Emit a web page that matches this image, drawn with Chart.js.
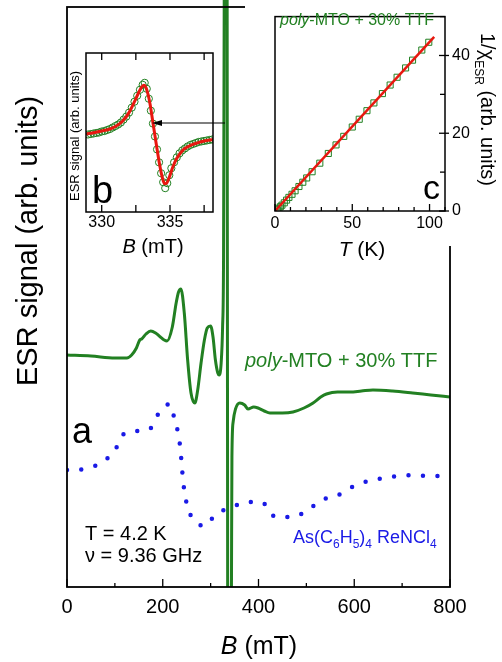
<!DOCTYPE html>
<html>
<head>
<meta charset="utf-8">
<script src="https://cdn.jsdelivr.net/npm/chart.js@4"></script>
<style>
  body { margin: 0; background: #fff; }
  #wrap { position: relative; width: 502px; height: 662px; }
  canvas { position: absolute; }
</style>
</head>
<body>
<div id="wrap">
  <canvas id="main" width="502" height="662" style="left:0;top:0"></canvas>
  <canvas id="insetB" width="180" height="222" style="left:60px;top:40px"></canvas>
  <canvas id="insetC" width="257" height="270" style="left:245px;top:0"></canvas>
</div>
<script>
"use strict";

// (a) ESR spectra, B in mT, signal in arb. units
const fieldMTO = [0, 50, 100, 125, 135, 145, 152, 156, 165, 175, 185, 195, 203, 209, 220, 228, 233, 238, 245, 252,
  259, 267, 273, 280, 287, 293, 300, 305, 310, 315, 318, 322, 325, 327, 329, 330.5, 333.5, 334.5, 335.6, 337,
  342, 343.5, 344.5, 347, 352, 361, 371, 378, 390, 399, 412, 424, 450, 472, 495, 514, 530, 542, 565, 591,
  615, 639, 680, 722, 760, 800];
const signalMTO = [232, 231, 229, 229, 232, 239, 247, 248, 253, 256, 254, 250, 247, 246, 260, 284, 295, 298, 274, 227,
  194, 184, 197, 224, 247, 259, 261, 250, 227, 214, 212, 224, 260, 330, 700, 1100, 1100, 600, 0, -200,
  -200, 0, 130, 165, 178, 184, 182, 178, 180, 179, 176, 174, 174, 175, 179, 184, 190, 193, 195, 195,
  196, 197, 196, 194, 192, 190];

const fieldRe = [0, 10, 41, 72, 100, 121, 148, 173, 192, 215, 225, 234, 238, 240, 243, 248, 258, 272, 286, 300,
  314, 342, 375, 406, 436, 469, 500, 532, 563, 596, 629, 662, 692, 723, 756, 800];
const signalRe = [117, 116, 119, 124, 137, 154, 156, 158, 174, 183, 167, 149, 132, 120, 104, 88, 72, 64, 61, 67,
  74, 79, 85, 85, 70, 70, 76, 87, 91, 100, 106, 109, 111, 112, 111, 111];

const xLabelsMain = [0, 200, 400, 600, 800];

// (b) single line, data (circles) and fit (red)
const fieldB = [329.0, 329.2, 329.4, 329.6, 329.8, 330.0, 330.2, 330.4, 330.6, 330.8, 331.0, 331.2, 331.4, 331.6,
  331.8, 332.0, 332.2, 332.4, 332.6, 332.8, 333.0, 333.15, 333.3, 333.45, 333.6, 333.75, 333.9, 334.05, 334.2,
  334.35, 334.5, 334.65, 334.8, 334.95, 335.1, 335.3, 335.5, 335.7, 335.9, 336.1, 336.3, 336.5, 336.7, 336.9,
  337.1, 337.3, 337.5, 337.7, 337.9, 338.1];
const signalB = [-2, -1.5, -1, -0.5, 0, 1, 1.5, 2.5, 3.5, 5, 6.5, 8, 10, 13,
  16, 20, 25, 31, 37, 43, 48, 50, 44, 34, 22, 9, -4, -17, -30,
  -41, -50, -56, -51, -43, -36, -30, -25, -21, -18, -16, -14, -12.5, -11.5, -10.5,
  -9.5, -9, -8.5, -8, -7.5, -7];
const fieldFitB = [328.85, 329.5, 330.0, 330.5, 331.0, 331.5, 332.0, 332.4, 332.7, 332.95, 333.1, 333.25, 333.4,
  333.55, 333.75, 334.0, 334.25, 334.45, 334.6, 334.75, 334.95, 335.2, 335.5, 336.0, 336.5, 337.0, 337.5, 338.15];
const signalFitB = [-1.5, 0, 1.5, 3, 6, 11, 20, 31, 40, 46, 47.5, 45, 38,
  28, 10, -12, -33, -46, -51.5, -51, -45, -35, -26, -17, -13, -10.5, -8.5, -7];
const xLabelsB = [330, 335];

// (c) inverse susceptibility vs temperature
const tempC = [1.5, 2.5, 3.5, 4.5, 6, 7.5, 9, 11, 13, 15.5, 18, 20.5, 24, 29, 34.5, 39.5, 44.5, 50, 54.5, 59.5,
  64, 69.5, 74.5, 79, 84.5, 89, 95, 99.5];
const invChiC = [0.3, 0.7, 1.1, 1.5, 2.1, 2.8, 3.5, 4.3, 5.2, 6.3, 7.4, 8.5, 10.1, 12.3, 14.8, 17.0, 19.2, 21.6, 23.6, 25.8,
  27.8, 30.2, 32.4, 34.4, 36.8, 38.8, 41.4, 43.4];
const fitT = [0, 103];
const fitInvChi = [0, 44.8];
const xLabelsC = [0, 50, 100];
const yLabelsC = [0, 20, 40];

const green = "#228022";
const blue = "#1a1ae6";
const red = "#e8170f";

Chart.defaults.font.family = "'Liberation Sans', Arial, Helvetica, sans-serif";
Chart.defaults.color = "#000";

const pts = (xs, ys) => xs.map((x, i) => ({ x: x, y: ys[i] }));

function drawRich(ctx, item) {
  const fam = Chart.defaults.font.family;
  const size = item.size;
  const subSize = item.subSize || Math.round(size * 0.62);
  const fontOf = p => (p.it ? "italic " : "") + (p.sub ? subSize : size) + "px " + fam;
  ctx.save();
  ctx.translate(item.x, item.y);
  if (item.rot) ctx.rotate(item.rot * Math.PI / 180);
  ctx.fillStyle = item.color || "#000";
  ctx.textBaseline = "alphabetic";
  ctx.textAlign = "left";
  let total = 0;
  item.parts.forEach(p => { ctx.font = fontOf(p); total += ctx.measureText(p.t).width; });
  let x = item.align === "center" ? -total / 2 : 0;
  item.parts.forEach(p => {
    ctx.font = fontOf(p);
    ctx.fillText(p.t, x, p.sub ? size * 0.3 : 0);
    x += ctx.measureText(p.t).width;
  });
  ctx.restore();
}

// frame around the plot area plus inward/outward tick marks
const framePlugin = {
  id: "frame",
  beforeDraw(chart, args, opts) {
    if (!opts.whiteTo) return;
    const ctx = chart.ctx;
    ctx.save();
    ctx.fillStyle = "#fff";
    ctx.fillRect(0, 0, chart.width, opts.whiteTo);
    ctx.restore();
  },
  afterDatasetsDraw(chart, args, opts) {
    const { ctx, chartArea: a } = chart;
    ctx.save();
    ctx.strokeStyle = "#000";
    ctx.lineWidth = opts.lw || 1.5;
    ctx.strokeRect(a.left, a.top, a.right - a.left, a.bottom - a.top);
    ctx.lineWidth = 1.3;
    (opts.ticks || []).forEach(t => {
      const scale = chart.scales[t.axis];
      scale.ticks.forEach(tk => {
        const major = !t.majorEvery || Math.abs(tk.value / t.majorEvery - Math.round(tk.value / t.majorEvery)) < 1e-6;
        const inL = major ? t.inLen[0] : t.inLen[1];
        const outL = major ? (t.outLen ? t.outLen[0] : 0) : (t.outLen ? t.outLen[1] : 0);
        const p = scale.getPixelForValue(tk.value);
        ctx.beginPath();
        if (t.side === "bottom") { ctx.moveTo(p, a.bottom + outL); ctx.lineTo(p, a.bottom - inL); }
        if (t.side === "top") { ctx.moveTo(p, a.top - outL); ctx.lineTo(p, a.top + inL); }
        if (t.side === "right") { ctx.moveTo(a.right + outL, p); ctx.lineTo(a.right - inL, p); }
        ctx.stroke();
      });
    });
    ctx.restore();
  },
  afterDraw(chart, args, opts) {
    const ctx = chart.ctx;
    (opts.texts || []).forEach(item => drawRich(ctx, item));
    if (opts.arrow) {
      const r = opts.arrow;
      ctx.save();
      ctx.strokeStyle = "#000";
      ctx.fillStyle = "#000";
      ctx.lineWidth = 1.2;
      ctx.beginPath();
      ctx.moveTo(r.x0, r.y);
      ctx.lineTo(r.x1 + r.head, r.y);
      ctx.stroke();
      ctx.beginPath();
      ctx.moveTo(r.x1, r.y);
      ctx.lineTo(r.x1 + r.head, r.y - r.half);
      ctx.lineTo(r.x1 + r.head, r.y + r.half);
      ctx.closePath();
      ctx.fill();
      ctx.restore();
    }
  }
};

const baseOptions = {
  responsive: false,
  animation: false,
  events: [],
  plugins: { legend: { display: false }, tooltip: { enabled: false } }
};

// (a) main panel
new Chart(document.getElementById("main"), {
  type: "line",
  data: {
    datasets: [
      {
        data: pts(fieldMTO, signalMTO), borderColor: green, borderWidth: 3, pointRadius: 0,
        cubicInterpolationMode: "monotone",
        clip: { left: 0, right: 0, top: false, bottom: 0 }
      },
      {
        data: pts(fieldRe, signalRe), borderColor: blue, borderWidth: 4.5, pointRadius: 0,
        borderDash: [0, 14.5], borderCapStyle: "round", cubicInterpolationMode: "monotone"
      }
    ]
  },
  options: {
    ...baseOptions,
    layout: { padding: { left: 67, top: 7, right: 52, bottom: 0 } },
    plugins: {
      ...baseOptions.plugins,
      frame: {
        lw: 1.8,
        ticks: [{ axis: "x", side: "bottom", majorEvery: 200, inLen: [8, 4] }],
        texts: [
          { x: 72, y: 443, size: 36, parts: [{ t: "a" }] },
          { x: 245, y: 367, size: 20, color: green, parts: [{ t: "poly", it: true }, { t: "-MTO + 30% TTF" }] },
          { x: 85, y: 540, size: 20, parts: [{ t: "T = 4.2 K" }] },
          { x: 85, y: 562, size: 20, parts: [{ t: "\u03bd = 9.36 GHz" }] },
          {
            x: 293, y: 543, size: 18, subSize: 12, color: blue,
            parts: [{ t: "As(C" }, { t: "6", sub: true }, { t: "H" }, { t: "5", sub: true }, { t: ")" },
              { t: "4", sub: true }, { t: " ReNCl" }, { t: "4", sub: true }]
          },
          { x: 259, y: 654, size: 25, align: "center", parts: [{ t: "B", it: true }, { t: " (mT)" }] },
          { x: 37, y: 241, size: 29, rot: -90, align: "center", parts: [{ t: "ESR signal (arb. units)" }] }
        ]
      }
    },
    scales: {
      x: {
        type: "linear", min: 0, max: 800,
        afterFit: s => { s.height = 75; },
        grid: { display: false, drawTicks: false },
        border: { display: false },
        ticks: {
          stepSize: 100, padding: 8, autoSkip: false, maxRotation: 0, font: { size: 20 },
          callback: v => xLabelsMain.includes(v) ? String(v) : ""
        }
      },
      y: { type: "linear", display: false, min: 0, max: 580 }
    }
  },
  plugins: [framePlugin]
});

// (b) inset
new Chart(document.getElementById("insetB"), {
  type: "line",
  data: {
    datasets: [
      { data: pts(fieldFitB, signalFitB), borderColor: red, borderWidth: 3, pointRadius: 0, cubicInterpolationMode: "monotone" },
      {
        data: pts(fieldB, signalB), showLine: false, pointRadius: 3.6, pointBorderWidth: 1,
        pointBorderColor: green, pointBackgroundColor: "rgba(0,0,0,0)"
      }
    ]
  },
  options: {
    ...baseOptions,
    layout: { padding: { left: 26, top: 13, right: 27, bottom: 0 } },
    plugins: {
      ...baseOptions.plugins,
      frame: {
        lw: 1.5,
        ticks: [
          { axis: "x", side: "bottom", inLen: [7, 7] },
          { axis: "x", side: "top", inLen: [7, 7] }
        ],
        texts: [
          { x: 32, y: 163, size: 38, parts: [{ t: "b" }] },
          { x: 93, y: 213, size: 20, align: "center", parts: [{ t: "B", it: true }, { t: " (mT)" }] },
          { x: 19, y: 96, size: 13, rot: -90, align: "center", parts: [{ t: "ESR signal (arb. units)" }] }
        ],
        arrow: { x0: 165, x1: 92, y: 83, head: 10, half: 3 }
      }
    },
    scales: {
      x: {
        type: "linear", min: 328.85, max: 338.15,
        afterFit: s => { s.height = 50; },
        grid: { display: false, drawTicks: false },
        border: { display: false },
        ticks: {
          stepSize: 2.5, includeBounds: false, padding: 1, autoSkip: false, maxRotation: 0, font: { size: 16 },
          callback: v => xLabelsB.includes(v) ? String(v) : ""
        }
      },
      y: { type: "linear", display: false, min: -80, max: 80 }
    }
  },
  plugins: [framePlugin]
});

// (c) inset
new Chart(document.getElementById("insetC"), {
  type: "line",
  data: {
    datasets: [
      { data: pts(fitT, fitInvChi), borderColor: red, borderWidth: 2.5, pointRadius: 0 },
      {
        data: pts(tempC, invChiC), showLine: false, pointStyle: "rect", pointRadius: 4.3, pointBorderWidth: 1,
        pointBorderColor: green, pointBackgroundColor: "rgba(0,0,0,0)"
      }
    ]
  },
  options: {
    ...baseOptions,
    layout: { padding: { left: 30, top: 7, right: 0, bottom: 0 } },
    plugins: {
      ...baseOptions.plugins,
      frame: {
        lw: 1.5,
        whiteTo: 246,
        ticks: [
          { axis: "x", side: "bottom", majorEvery: 50, inLen: [7, 4] },
          { axis: "y", side: "right", majorEvery: 20, inLen: [6, 5], outLen: [4, 0] }
        ],
        texts: [
          { x: 35, y: 25, size: 16, color: green, parts: [{ t: "poly", it: true }, { t: "-MTO + 30% TTF" }] },
          { x: 178, y: 199, size: 34, parts: [{ t: "c" }] },
          { x: 117, y: 256, size: 21, align: "center", parts: [{ t: "T", it: true }, { t: " (K)" }] },
          {
            x: 236, y: 33, size: 20, subSize: 12, rot: 90,
            parts: [{ t: "1/\u03c7" }, { t: "ESR", sub: true }, { t: " (arb. units)" }]
          }
        ]
      }
    },
    scales: {
      x: {
        type: "linear", min: 0, max: 110,
        afterFit: s => { s.height = 59; },
        grid: { display: false, drawTicks: false },
        border: { display: false },
        ticks: {
          stepSize: 10, padding: 3, autoSkip: false, maxRotation: 0, font: { size: 16 },
          callback: v => xLabelsC.includes(v) ? String(v) : ""
        }
      },
      y: {
        type: "linear", position: "right", min: 0, max: 50,
        afterFit: s => { s.width = 57; },
        grid: { display: false, drawTicks: false },
        border: { display: false },
        ticks: {
          stepSize: 10, padding: 7, autoSkip: false, font: { size: 16 },
          callback: v => yLabelsC.includes(v) ? String(v) : ""
        }
      }
    }
  },
  plugins: [framePlugin]
});
</script>
</body>
</html>
